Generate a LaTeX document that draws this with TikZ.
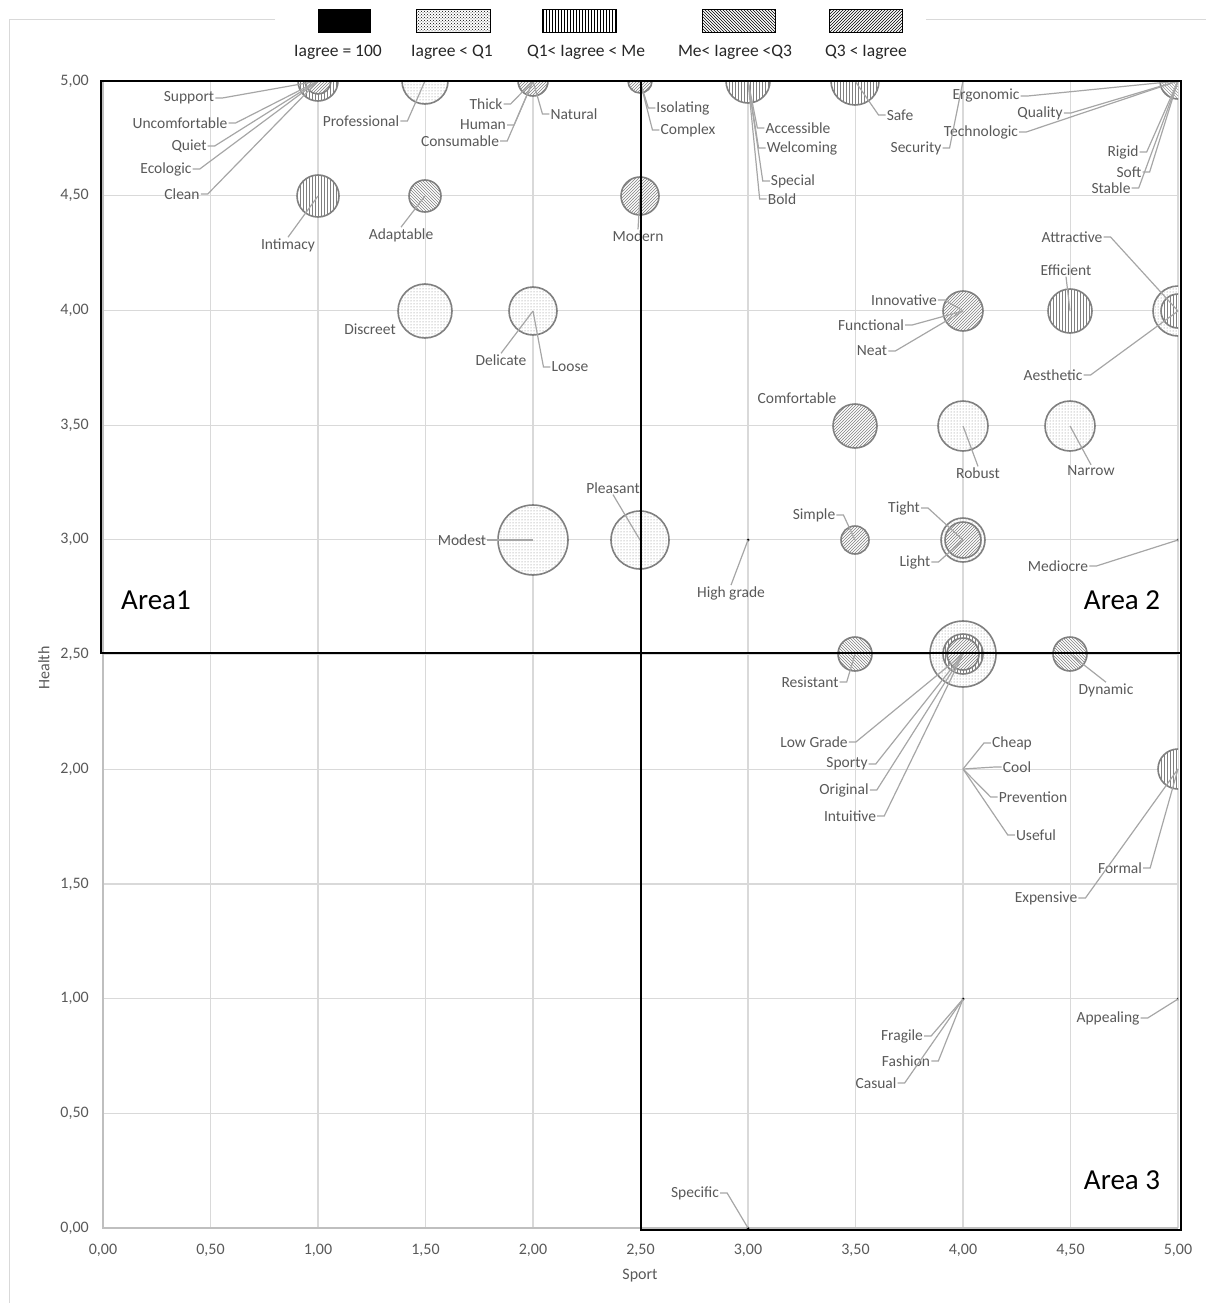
\documentclass[tikz,border=0pt]{standalone}
\usepackage{fontspec}
\setmainfont{Carlito}
\usetikzlibrary{patterns}
\definecolor{txt}{HTML}{595959}
\definecolor{grd}{HTML}{D9D9D9}
\definecolor{axl}{HTML}{BFBFBF}
\definecolor{bubc}{HTML}{808080}
\definecolor{ldr}{HTML}{A6A6A6}
\newcommand\labE[4]{\node[lab] (#1) at (#2) {#3}; \draw[lead] (#1.east) -- ++(7,0) -- (#4);}
\newcommand\labW[4]{\node[lab] (#1) at (#2) {#3}; \draw[lead] (#1.west) -- ++(-7,0) -- (#4);}
\newcommand\labN[4]{\node[lab] (#1) at (#2) {#3}; \draw[lead] (#1.north) -- (#4);}
\newcommand\labS[4]{\node[lab] (#1) at (#2) {#3}; \draw[lead] (#1.south) -- (#4);}
\newcommand\labO[3]{\node[lab] (#1) at (#2) {#3};}
\begin{document}
\begin{tikzpicture}[x=1pt,y=-1pt,
  lab/.style={text=txt,font=\fontsize{15.5}{17}\selectfont,inner sep=1pt},
  tick/.style={text=txt,font=\fontsize{16}{18}\selectfont,inner sep=1pt},
  lead/.style={draw=ldr,line width=1.2pt},
  bub/.style={circle,draw=bubc,line width=1.6pt,inner sep=0pt,minimum size=#1,preaction={fill=white}},
  dotf/.style={pattern=dots,pattern color=bubc},
  vert/.style={pattern=vertical lines,pattern color=bubc},
  neh/.style={pattern=north east lines,pattern color=bubc},
  nwh/.style={pattern=north west lines,pattern color=bubc},
  legbox/.style={draw=black,line width=1pt,minimum height=23,inner sep=0pt},
  legtxt/.style={text=black!85,font=\fontsize{17.5}{19}\selectfont,inner sep=1pt},
  areabox/.style={draw=black,line width=2.4pt},
  areatxt/.style={text=black,font=\fontsize{29}{33}\selectfont,inner sep=1pt},
  pt/.style={circle,fill=black,inner sep=0pt,minimum size=3}
]
\useasboundingbox (0,0) rectangle (1206,1303);
% outer frame
\draw[grd,line width=1pt] (275,20) -- (9,20) -- (9,1303);
\draw[grd,line width=1pt] (926,20) -- (1206,20);
% legend
\node[legbox,fill=black,minimum width=52] (lg1) at (344,21) {};
\node[legbox,pattern=crosshatch dots,pattern color=black,minimum width=74] (lg2) at (453,21) {};
\node[legbox,pattern=vertical lines,pattern color=black,minimum width=74] (lg3) at (579,21) {};
\node[legbox,pattern=north west lines,pattern color=black,minimum width=73] (lg4) at (739,21) {};
\node[legbox,pattern=north east lines,pattern color=black,minimum width=73] (lg5) at (866,21) {};
\node[legtxt] (lt1) at (338,52) {Iagree = 100};
\node[legtxt] (lt2) at (452,52) {Iagree < Q1};
\node[legtxt] (lt3) at (586,52) {Q1< Iagree < Me};
\node[legtxt] (lt4) at (735,52) {Me< Iagree <Q3};
\node[legtxt] (lt5) at (866,52) {Q3 < Iagree};
% grid
\foreach \i in {1,...,10} \draw[grd,line width=1.2pt] ({103+107.5*\i},81) -- ({103+107.5*\i},1228);
\foreach \j in {0,...,9} \draw[grd,line width=1.2pt] (103,{81+114.7*\j}) -- (1178,{81+114.7*\j});
\draw[axl,line width=1.4pt] (103,81) -- (103,1228) -- (1178,1228);
% tick labels
\foreach \i/\t in {0/{0,00},1/{0,50},2/{1,00},3/{1,50},4/{2,00},5/{2,50},6/{3,00},7/{3,50},8/{4,00},9/{4,50},10/{5,00}}
  \node[tick] at ({103+107.5*\i},1250) {\t};
\foreach \j/\t in {0/{5,00},1/{4,50},2/{4,00},3/{3,50},4/{3,00},5/{2,50},6/{2,00},7/{1,50},8/{1,00},9/{0,50},10/{0,00}}
  \node[tick,anchor=east] at (90,{81+114.7*\j}) {\t};
\node[tick] (xt) at (640,1276) {Sport};
\node[tick,rotate=90] (yt) at (44,668) {Health};
% data points
\coordinate (pA1) at (318,81); \coordinate (pA2) at (425,81); \coordinate (pA3) at (533,81);
\coordinate (pA4) at (640,81); \coordinate (pA5) at (748,81); \coordinate (pA6) at (855,81);
\coordinate (pA7) at (963,81); \coordinate (pA8) at (1178,81);
\coordinate (pB1) at (318,196); \coordinate (pB2) at (425,196); \coordinate (pB3) at (640,196);
\coordinate (pC1) at (425,311); \coordinate (pC2) at (533,311); \coordinate (pC3) at (963,311);
\coordinate (pC4) at (1070,311); \coordinate (pC5) at (1178,311);
\coordinate (pD1) at (855,426); \coordinate (pD2) at (963,426); \coordinate (pD3) at (1070,426);
\coordinate (pE1) at (533,540); \coordinate (pE2) at (640,540); \coordinate (pE3) at (748,540);
\coordinate (pE4) at (855,540); \coordinate (pE5) at (963,540); \coordinate (pE6) at (1178,540);
\coordinate (pF1) at (855,654); \coordinate (pF2) at (963,654); \coordinate (pF3) at (1070,654);
\coordinate (pG1) at (963,769); \coordinate (pG2) at (1178,769);
\coordinate (pH1) at (963,999); \coordinate (pH2) at (1178,999);
\coordinate (pI1) at (748,1228);
% bubbles
\begin{scope}
\clip (103,81) rectangle (1178,1228);
\node[bub=40,vert] (bA1) at (pA1) {}; \node[bub=26,neh] (bA1b) at (pA1) {};
\node[bub=46,dotf] (bA2) at (pA2) {};
\node[bub=30,neh] (bA3) at (pA3) {};
\node[bub=24,neh] (bA4) at (pA4) {};
\node[bub=44,vert] (bA5) at (pA5) {};
\node[bub=48,vert] (bA6) at (pA6) {};
\node[bub=36,nwh] (bA8) at (pA8) {};
\node[bub=42,vert] (bB1) at (pB1) {};
\node[bub=32,nwh] (bB2) at (pB2) {};
\node[bub=38,neh] (bB3) at (pB3) {};
\node[bub=54,dotf] (bC1) at (pC1) {};
\node[bub=48,dotf] (bC2) at (pC2) {};
\node[bub=40,neh] (bC3) at (pC3) {};
\node[bub=44,vert] (bC4) at (pC4) {};
\node[bub=50,dotf] (bC5) at (pC5) {}; \node[bub=34,vert] (bC5b) at (pC5) {};
\node[bub=44,neh] (bD1) at (pD1) {};
\node[bub=50,dotf] (bD2) at (pD2) {};
\node[bub=50,dotf] (bD3) at (pD3) {};
\node[bub=70,dotf] (bE1) at (pE1) {};
\node[bub=58,dotf] (bE2) at (pE2) {};
\node[bub=28,neh] (bE4) at (pE4) {};
\node[bub=44,dotf] (bE5) at (pE5) {}; \node[bub=36,neh] (bE5b) at (pE5) {};
\node[bub=34,nwh] (bF1) at (pF1) {};
\node[bub=66,dotf] (bF2) at (pF2) {}; \node[bub=40,vert] (bF2b) at (pF2) {}; \node[bub=32,neh] (bF2c) at (pF2) {};
\node[bub=34,nwh] (bF3) at (pF3) {};
\node[bub=40,vert] (bG2) at (pG2) {};
\node[pt] (dE3) at (pE3) {}; \node[pt] (dE6) at (pE6) {};
\node[pt] (dH1) at (pH1) {}; \node[pt] (dH2) at (pH2) {}; \node[pt] (dI1) at (pI1) {};
\end{scope}
% labels with leader lines
\labE{l1}{189,98}{Support}{pA1}
\labE{l2}{180,123}{Uncomfortable}{pA1}
\labE{l3}{189,146}{Quiet}{pA1}
\labE{l4}{166,169}{Ecologic}{pA1}
\labE{l5}{182,194}{Clean}{pA1}
\labE{l6}{361,121}{Professional}{pA2}
\labE{l7}{486,104}{Thick}{pA3}
\labE{l8}{483,125}{Human}{pA3}
\labE{l9}{460,141}{Consumable}{pA3}
\labW{l10}{574,114}{Natural}{pA3}
\labW{l11}{683,108}{Isolating}{pA4}
\labW{l12}{688,130}{Complex}{pA4}
\labN{l13}{288,245}{Intimacy}{pB1}
\labN{l14}{401,235}{Adaptable}{pB2}
\labN{l15}{638,236}{Modern}{pB3}
\labW{l16}{798,128}{Accessible}{pA5}
\labW{l17}{802,148}{Welcoming}{pA5}
\labW{l18}{793,181}{Special}{pA5}
\labW{l19}{782,199}{Bold}{pA5}
\labW{l20}{900,115}{Safe}{pA6}
\labE{l21}{986,96}{Ergonomic}{pA8}
\labE{l22}{1040,113}{Quality}{pA8}
\labE{l23}{981,132}{Technologic}{pA8}
\labE{l24}{916,148}{Security}{pA7}
\labE{l25}{1123,152}{Rigid}{pA8}
\labE{l26}{1129,172}{Soft}{pA8}
\labE{l27}{1111,188}{Stable}{pA8}
\labE{l28}{1072,237}{Attractive}{pC5}
\labS{l29}{1066,270}{Efficient}{pC4}
\labE{l30}{904,300}{Innovative}{pC3}
\labE{l31}{871,325}{Functional}{pC3}
\labE{l32}{872,351}{Neat}{pC3}
\labE{l33}{1053,375}{Aesthetic}{pC5}
\labO{l34}{370,329}{Discreet}
\labN{l35}{501,360}{Delicate}{pC2}
\labW{l36}{570,367}{Loose}{pC2}
\labO{l37}{797,398}{Comfortable}
\labN{l38}{978,473}{Robust}{pD2}
\labN{l39}{1091,471}{Narrow}{pD3}
\labS{l40}{613,488}{Pleasant}{pE2}
\labE{l41}{462,540}{Modest}{pE1}
\labN{l42}{731,593}{High grade}{pE3}
\labE{l43}{814,515}{Simple}{pE4}
\labE{l44}{904,508}{Tight}{pE5}
\labE{l45}{915,562}{Light}{pE5}
\labE{l46}{1058,566}{Mediocre}{pE6}
\labE{l47}{810,682}{Resistant}{pF1}
\labN{l48}{1106,690}{Dynamic}{pF3}
\labE{l49}{814,742}{Low Grade}{pF2}
\labE{l50}{847,764}{Sporty}{pF2}
\labE{l51}{844,790}{Original}{pF2}
\labE{l52}{850,816}{Intuitive}{pF2}
\labW{l53}{1012,743}{Cheap}{pG1}
\labW{l54}{1017,767}{Cool}{pG1}
\labW{l55}{1033,797}{Prevention}{pG1}
\labW{l56}{1036,835}{Useful}{pG1}
\labE{l57}{1120,868}{Formal}{pG2}
\labE{l58}{1046,898}{Expensive}{pG2}
\labE{l59}{902,1036}{Fragile}{pH1}
\labE{l60}{906,1061}{Fashion}{pH1}
\labE{l61}{876,1083}{Casual}{pH1}
\labE{l62}{1108,1018}{Appealing}{pH2}
\labE{l63}{695,1193}{Specific}{pI1}
% area boxes
\draw[areabox] (101,81) rectangle (641,653);
\draw[areabox] (641,81) rectangle (1181,653);
\draw[areabox] (641,653) rectangle (1181,1230);
\node[areatxt] (a1) at (156,600) {Area1};
\node[areatxt] (a2) at (1122,600) {Area 2};
\node[areatxt] (a3) at (1122,1180) {Area 3};
\end{tikzpicture}
\end{document}
